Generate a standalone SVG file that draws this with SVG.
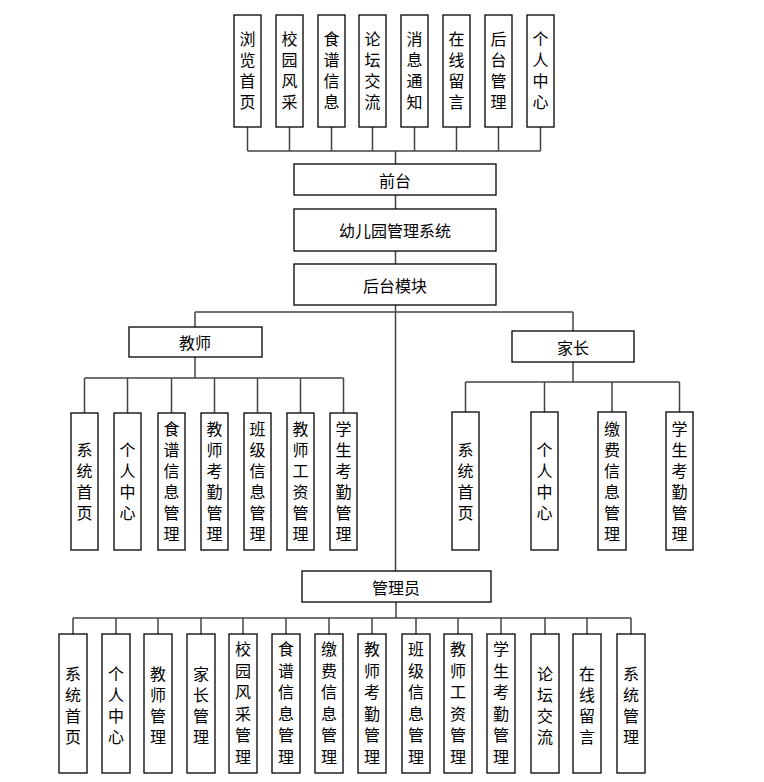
<svg xmlns="http://www.w3.org/2000/svg" width="764" height="782" viewBox="0 0 764 782">
<style>
.b{fill:#fff;stroke:#000;stroke-width:1.3}
.c{fill:none;stroke:#444;stroke-width:1.5}
text{font-family:"Noto Sans CJK SC","Noto Sans",sans-serif;font-size:16px;fill:#000;text-anchor:middle}
.h{dominant-baseline:central}
.v{writing-mode:vertical-rl;text-orientation:upright;letter-spacing:5px}
.w{writing-mode:vertical-rl;text-orientation:upright;letter-spacing:5.6px}
</style>
<rect width="764" height="782" fill="#fff"/>
<g id="connectors" class="c">
<path d="M247.5 127V151M289.5 127V151M331.5 127V151M372.5 127V151M414.5 127V151M456.5 127V151M498.5 127V151M540.5 127V151M247.5 151H540.5M395.5 151V164"/>
<path d="M395.5 195V209M395.5 251V264M395.5 305V571M195 312H573M195 312V327M573 312V331"/>
<path d="M195 357V378M84.5 378H343.5M84.5 378V413M127.5 378V413M171.5 378V413M214.5 378V413M257.5 378V413M300.5 378V413M343.5 378V413"/>
<path d="M573 362V382M465.5 382H679.5M465.5 382V412M544.5 382V412M612 382V412M679.5 382V412"/>
<path d="M396 602V618M73 618H631M73 618V634M116 618V634M158 618V634M201 618V634M243 618V634M286 618V634M329 618V634M372 618V634M416 618V634M458 618V634M501 618V634M545 618V634M587 618V634M631 618V634"/>
</g>
<g id="top-1"><rect class="b" x="234" y="15" width="27" height="112"/><text class="v" x="247.5" y="72.5">浏览首页</text></g>
<g id="top-2"><rect class="b" x="276" y="15" width="27" height="112"/><text class="v" x="289.5" y="72.5">校园风采</text></g>
<g id="top-3"><rect class="b" x="318" y="15" width="27" height="112"/><text class="v" x="331.5" y="72.5">食谱信息</text></g>
<g id="top-4"><rect class="b" x="359" y="15" width="27" height="112"/><text class="v" x="372.5" y="72.5">论坛交流</text></g>
<g id="top-5"><rect class="b" x="401" y="15" width="27" height="112"/><text class="v" x="414.5" y="72.5">消息通知</text></g>
<g id="top-6"><rect class="b" x="443" y="15" width="27" height="112"/><text class="v" x="456.5" y="72.5">在线留言</text></g>
<g id="top-7"><rect class="b" x="485" y="15" width="27" height="112"/><text class="v" x="498.5" y="72.5">后台管理</text></g>
<g id="top-8"><rect class="b" x="527" y="15" width="27" height="112"/><text class="v" x="540.5" y="72.5">个人中心</text></g>
<g id="qiantai"><rect class="b" x="294" y="164" width="202" height="31"/><text class="h" x="395" y="179.5">前台</text></g>
<g id="system"><rect class="b" x="294" y="209" width="202" height="42"/><text class="h" x="395" y="230">幼儿园管理系统</text></g>
<g id="houtai"><rect class="b" x="294" y="264" width="202" height="41"/><text class="h" x="395" y="284.5">后台模块</text></g>
<g id="teacher"><rect class="b" x="129" y="327" width="133" height="30"/><text class="h" x="195" y="342">教师</text></g>
<g id="parent"><rect class="b" x="512" y="331" width="122" height="31"/><text class="h" x="573" y="346.5">家长</text></g>
<g id="admin"><rect class="b" x="302" y="571" width="189" height="31"/><text class="h" x="396" y="586.5">管理员</text></g>
<g id="t-1"><rect class="b" x="71" y="413" width="27" height="137"/><text class="v" x="84.5" y="483.5">系统首页</text></g>
<g id="t-2"><rect class="b" x="114" y="413" width="27" height="137"/><text class="v" x="127.5" y="483.5">个人中心</text></g>
<g id="t-3"><rect class="b" x="158" y="413" width="27" height="137"/><text class="v" x="171.5" y="483.5">食谱信息管理</text></g>
<g id="t-4"><rect class="b" x="201" y="413" width="27" height="137"/><text class="v" x="214.5" y="483.5">教师考勤管理</text></g>
<g id="t-5"><rect class="b" x="244" y="413" width="27" height="137"/><text class="v" x="257.5" y="483.5">班级信息管理</text></g>
<g id="t-6"><rect class="b" x="287" y="413" width="27" height="137"/><text class="v" x="300.5" y="483.5">教师工资管理</text></g>
<g id="t-7"><rect class="b" x="330" y="413" width="27" height="137"/><text class="v" x="343.5" y="483.5">学生考勤管理</text></g>
<g id="p-1"><rect class="b" x="452" y="412" width="27" height="138"/><text class="v" x="465.5" y="483.5">系统首页</text></g>
<g id="p-2"><rect class="b" x="531" y="412" width="27" height="138"/><text class="v" x="544.5" y="483.5">个人中心</text></g>
<g id="p-3"><rect class="b" x="598" y="412" width="28" height="138"/><text class="v" x="612" y="483.5">缴费信息管理</text></g>
<g id="p-4"><rect class="b" x="666" y="412" width="27" height="138"/><text class="v" x="679.5" y="483.5">学生考勤管理</text></g>
<g id="a-1"><rect class="b" x="59" y="634" width="28" height="139"/><text class="v" x="73" y="707.5">系统首页</text></g>
<g id="a-2"><rect class="b" x="102" y="634" width="28" height="139"/><text class="v" x="116" y="707.5">个人中心</text></g>
<g id="a-3"><rect class="b" x="144" y="634" width="28" height="139"/><text class="v" x="158" y="707.5">教师管理</text></g>
<g id="a-4"><rect class="b" x="187" y="634" width="28" height="139"/><text class="v" x="201" y="707.5">家长管理</text></g>
<g id="a-5"><rect class="b" x="229" y="634" width="28" height="139"/><text class="w" x="243" y="705.8">校园风采管理</text></g>
<g id="a-6"><rect class="b" x="272" y="634" width="28" height="139"/><text class="w" x="286" y="705.8">食谱信息管理</text></g>
<g id="a-7"><rect class="b" x="315" y="634" width="28" height="139"/><text class="w" x="329" y="705.8">缴费信息管理</text></g>
<g id="a-8"><rect class="b" x="358" y="634" width="28" height="139"/><text class="w" x="372" y="705.8">教师考勤管理</text></g>
<g id="a-9"><rect class="b" x="402" y="634" width="28" height="139"/><text class="w" x="416" y="705.8">班级信息管理</text></g>
<g id="a-10"><rect class="b" x="444" y="634" width="28" height="139"/><text class="w" x="458" y="705.8">教师工资管理</text></g>
<g id="a-11"><rect class="b" x="487" y="634" width="28" height="139"/><text class="w" x="501" y="705.8">学生考勤管理</text></g>
<g id="a-12"><rect class="b" x="531" y="634" width="28" height="139"/><text class="v" x="545" y="707.5">论坛交流</text></g>
<g id="a-13"><rect class="b" x="573" y="634" width="28" height="139"/><text class="v" x="587" y="707.5">在线留言</text></g>
<g id="a-14"><rect class="b" x="617" y="634" width="28" height="139"/><text class="v" x="631" y="707.5">系统管理</text></g>
</svg>
